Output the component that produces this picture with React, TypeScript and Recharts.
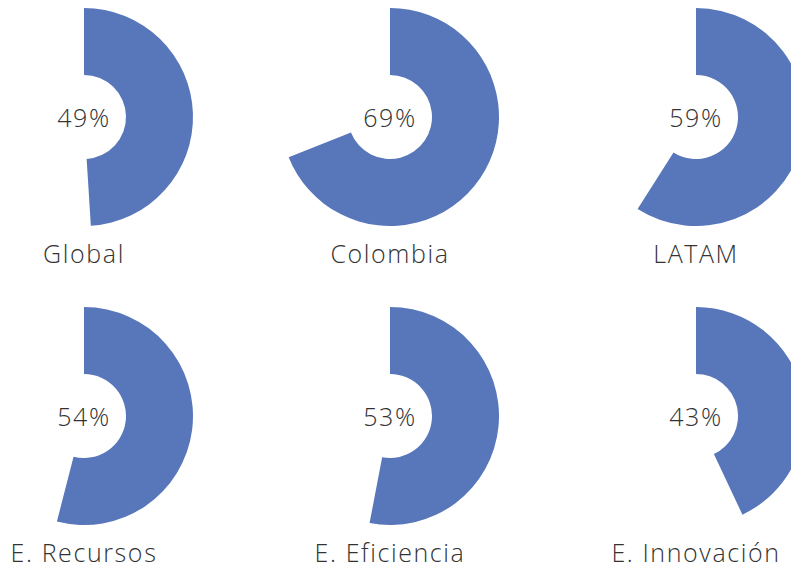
import React from 'react'
import { PieChart, Pie, Cell } from 'recharts'

const categories = ['Global', 'Colombia', 'LATAM', 'E. Recursos', 'E. Eficiencia', 'E. Innovación']
const values = [49, 69, 59, 54, 53, 43]

const FILL = '#5876ba'
const TEXT = '#333333'
const FONT = '"Open Sans", sans-serif'

const COL_X = [84, 390, 696]
const ROW_Y = [117, 416]

export default function App() {
  return (
    <div
      style={{
        position: 'absolute',
        left: 0,
        top: 0,
        width: 791,
        height: 570,
        overflow: 'hidden',
        background: '#fff',
      }}
    >
      <PieChart width={791} height={570} margin={{ top: 0, right: 0, bottom: 0, left: 0 }}>
        {values.map((v, i) => {
          const data = [
            { name: categories[i], value: v },
            { name: 'rest', value: 100 - v },
          ]
          return (
            <Pie
              key={categories[i]}
              data={data}
              dataKey="value"
              cx={COL_X[i % 3]}
              cy={ROW_Y[Math.floor(i / 3)]}
              innerRadius={42}
              outerRadius={109}
              startAngle={90}
              endAngle={-270}
              stroke="none"
              isAnimationActive={false}
            >
              <Cell fill={FILL} />
              <Cell fill="none" />
            </Pie>
          )
        })}
      </PieChart>
      <svg
        width={791}
        height={570}
        style={{ position: 'absolute', left: 0, top: 0, pointerEvents: 'none' }}
      >
        {values.map((v, i) => {
          const x = COL_X[i % 3]
          const y = ROW_Y[Math.floor(i / 3)]
          return (
            <g
              key={categories[i]}
              fontFamily={FONT}
              fontSize={25}
              fontWeight={300}
              fill={TEXT}
              textAnchor="middle"
              letterSpacing={1.6}
            >
              <text x={x} y={y + 10}>{`${v}%`}</text>
              <text x={x} y={y + 146}>{categories[i]}</text>
            </g>
          )
        })}
      </svg>
    </div>
  )
}
